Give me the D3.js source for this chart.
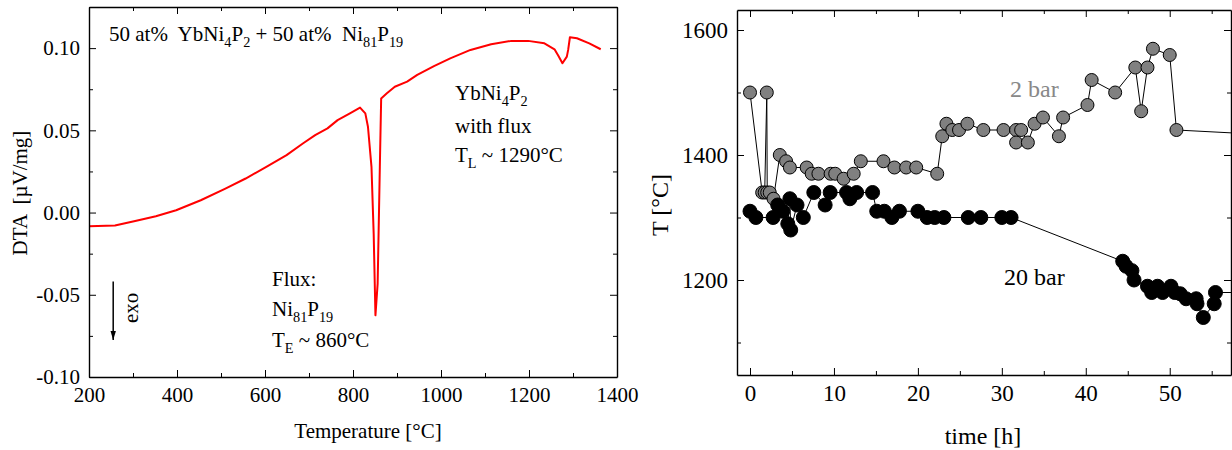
<!DOCTYPE html>
<html>
<head>
<meta charset="utf-8">
<script src="https://cdn.jsdelivr.net/npm/d3@7"></script>
<style>
  body { margin: 0; background: #fff; }
  svg { display: block; font-family: "Liberation Serif", "Times New Roman", serif; }
</style>
</head>
<body>
<svg id="chart" width="1232" height="450"></svg>
<script>
// DTA curve (left panel)
const dtaTemperature = [200, 259, 305, 352, 398, 454, 510, 556, 603, 649, 686, 714, 742, 765, 793, 816,
  828, 834, 842, 847, 851, 856, 861, 864, 877, 895, 923, 946, 984, 1021, 1067, 1114, 1160, 1198,
  1235, 1258, 1267, 1276, 1286, 1289, 1293, 1309, 1337, 1363];
const dtaSignal = [-0.0083, -0.0079, -0.0051, -0.0022, 0.0014, 0.0075, 0.0146, 0.0207, 0.0278, 0.0349,
  0.042, 0.0471, 0.0512, 0.0562, 0.0603, 0.0638, 0.0603, 0.0522, 0.0278, -0.0128, -0.0625, -0.0432,
  0.0278, 0.0694, 0.0725, 0.0765, 0.0796, 0.0837, 0.0891, 0.0938, 0.0989, 0.1024, 0.1044, 0.1044,
  0.1029, 0.0993, 0.0952, 0.0908, 0.0948, 0.0989, 0.1066, 0.106, 0.1029, 0.0993];

// growth runs (right panel)
const time2bar = [0, 1.45, 1.75, 2.0, 2.05, 2.35, 2.8, 3.55, 4.3, 4.75, 6.75, 7.35, 8.15, 9.6, 10.15,
  11.15, 12.35, 13.2, 15.9, 17.2, 18.6, 19.8, 22.3, 22.9, 23.4, 24.1, 24.9, 25.9, 27.8, 30.2, 31.7,
  31.7, 32.3, 33.1, 33.9, 34.9, 36.8, 37.3, 40.2, 40.7, 43.5, 45.9, 46.6, 47.35, 48.0, 50.0, 50.8, 65];
const temp2bar = [1500, 1340, 1340, 1500, 1340, 1340, 1330, 1400, 1390, 1380, 1380, 1370, 1370, 1370,
  1370, 1362, 1370, 1390, 1390, 1380, 1380, 1380, 1370, 1430, 1450, 1440, 1440, 1450, 1440, 1440,
  1440, 1420, 1440, 1420, 1450, 1460, 1430, 1460, 1480, 1520, 1500, 1540, 1470, 1540, 1570, 1560,
  1440, 1430];

const time20bar = [0, 0.7, 2.75, 3.3, 3.9, 4.5, 4.75, 4.85, 5.6, 6.35, 7.6, 8.95, 9.55, 11.5, 11.9,
  12.7, 14.6, 15.1, 16.0, 16.9, 17.8, 20.0, 21.1, 22.0, 23.1, 26.0, 27.5, 30.0, 31.1, 44.4, 44.8,
  45.5, 45.75, 47.35, 47.85, 48.55, 49.15, 50.15, 50.6, 51.25, 51.95, 53.15, 53.25, 54.0, 55.3,
  55.45, 65];
const temp20bar = [1310, 1300, 1300, 1320, 1310, 1290, 1330, 1280, 1320, 1300, 1340, 1320, 1340, 1340,
  1330, 1340, 1340, 1310, 1310, 1300, 1310, 1310, 1300, 1300, 1300, 1300, 1300, 1300, 1300, 1230,
  1222, 1215, 1200, 1190, 1180, 1190, 1180, 1190, 1180, 1178, 1170, 1170, 1162, 1140, 1162, 1180,
  1180];

// tick values
const dtaXTicks = [200, 400, 600, 800, 1000, 1200, 1400];
const dtaXMinor = [300, 500, 700, 900, 1100, 1300];
const dtaYTicks = [-0.10, -0.05, 0.00, 0.05, 0.10];
const dtaYMinor = [-0.075, -0.025, 0.025, 0.075];
const timeTicks = [0, 10, 20, 30, 40, 50];
const timeMinor = [5, 15, 25, 35, 45, 55];
const tempTicks = [1200, 1400, 1600];
const tempMinor = [1100, 1300, 1500];

const svg = d3.select("#chart");

// draws the box with inward major/minor ticks on all four sides
function frame(g, x, y, { xMajor, xMinor, yMajor, yMinor, xFormat, yFormat, fontSize }) {
  const [x0, x1] = x.range();
  const [y0, y1] = y.range();
  const sides = [
    [d3.axisBottom, `translate(0,${y0})`, x, xMajor, xMinor, xFormat],
    [d3.axisTop, `translate(0,${y1})`, x, xMajor, xMinor, null],
    [d3.axisLeft, `translate(${x0},0)`, y, yMajor, yMinor, yFormat],
    [d3.axisRight, `translate(${x1},0)`, y, yMajor, yMinor, null],
  ];
  sides.forEach(([axis, transform, scale, major, minor, fmt]) => {
    g.append("g")
      .attr("transform", transform)
      .call(axis(scale).tickValues(minor).tickSize(-4).tickSizeOuter(0).tickFormat(""))
      .call((a) => a.select(".domain").remove());
    const a = g.append("g")
      .attr("transform", transform)
      .call(axis(scale).tickValues(major).tickSize(-7).tickSizeOuter(0)
        .tickPadding(axis === d3.axisLeft ? 9 : 10)
        .tickFormat(fmt || ""))
      .attr("font-family", null)
      .attr("font-size", fontSize);
    a.select(".domain").attr("stroke-width", 1.4);
    a.selectAll("text").attr("fill", "#000");
  });
}

// text with subscripts: parts are strings or [subscript]
function richText(g, x, y, parts, size, color = "#000") {
  const t = g.append("text").attr("x", x).attr("y", y)
    .attr("font-size", size).attr("fill", color).style("white-space", "pre");
  let shifted = false;
  parts.forEach((p) => {
    const sub = Array.isArray(p);
    const span = t.append("tspan").text(sub ? p[0] : p);
    if (sub && !shifted) { span.attr("dy", 6).attr("font-size", size * 0.68); shifted = true; }
    else if (sub) span.attr("font-size", size * 0.68);
    else if (shifted) { span.attr("dy", -6); shifted = false; }
  });
  return t;
}

// ---------- left panel: DTA ----------
const left = svg.append("g");
const xT = d3.scaleLinear().domain([200, 1400]).range([89, 617]);
const yD = d3.scaleLinear().domain([-0.10, 0.125]).range([377, 7]);

left.append("path")
  .datum(d3.zip(dtaTemperature, dtaSignal))
  .attr("fill", "none")
  .attr("stroke", "#ff0000")
  .attr("stroke-width", 2)
  .attr("stroke-linejoin", "round")
  .attr("d", d3.line().x((d) => xT(d[0])).y((d) => yD(d[1])));

frame(left, xT, yD, {
  xMajor: dtaXTicks, xMinor: dtaXMinor, yMajor: dtaYTicks, yMinor: dtaYMinor,
  xFormat: (d) => d, yFormat: (d) => d.toFixed(2), fontSize: 21,
});

left.append("text")
  .attr("x", 368).attr("y", 438)
  .attr("text-anchor", "middle").attr("font-size", 21)
  .text("Temperature [°C]");
left.append("text")
  .attr("transform", "translate(27,193) rotate(-90)")
  .attr("text-anchor", "middle").attr("font-size", 21)
  .style("white-space", "pre")
  .text("DTA  [µV/mg]");

richText(left, 109, 41, ["50 at%  YbNi", ["4"], "P", ["2"], " + 50 at%  Ni", ["81"], "P", ["19"]], 21);
richText(left, 455, 100, ["YbNi", ["4"], "P", ["2"]], 21);
richText(left, 455, 133, ["with flux"], 21);
richText(left, 455, 162, ["T", ["L"], " ~ 1290°C"], 21);
richText(left, 272, 286, ["Flux:"], 21);
richText(left, 272, 316, ["Ni", ["81"], "P", ["19"]], 21);
richText(left, 272, 347, ["T", ["E"], " ~ 860°C"], 21);

// exo arrow
svg.append("defs").append("marker")
  .attr("id", "arrow").attr("viewBox", "0 0 10 10")
  .attr("refX", 10).attr("refY", 5)
  .attr("markerWidth", 6).attr("markerHeight", 6)
  .attr("markerUnits", "strokeWidth")
  .attr("orient", "auto")
  .append("path").attr("d", "M0,2 L10,5 L0,8 Z").attr("fill", "#000");
left.append("line")
  .attr("x1", xT(255)).attr("x2", xT(255))
  .attr("y1", yD(-0.042)).attr("y2", yD(-0.0775))
  .attr("stroke", "#000").attr("stroke-width", 1.5)
  .attr("marker-end", "url(#arrow)");
left.append("text")
  .attr("transform", `translate(138,${yD(-0.058)}) rotate(-90)`)
  .attr("text-anchor", "middle").attr("font-size", 21)
  .text("exo");

// ---------- right panel: temperature vs time ----------
const right = svg.append("g");
const xH = d3.scaleLinear().domain([-1.55, 57.3]).range([737, 1231]);
const yC = d3.scaleLinear().domain([1048, 1632]).range([375, 10]);

svg.select("defs").append("clipPath").attr("id", "plotClip")
  .append("rect").attr("x", 737).attr("y", 10).attr("width", 494).attr("height", 365);

const plot = right.append("g").attr("clip-path", "url(#plotClip)");
const line = d3.line().x((d) => xH(d[0])).y((d) => yC(d[1]));

const runs = [
  { t: time2bar, T: temp2bar, fill: "#808080", r: 6.5 },
  { t: time20bar, T: temp20bar, fill: "#000", r: 7 },
];
runs.forEach((run) => {
  const pts = d3.zip(run.t, run.T);
  plot.append("path").datum(pts)
    .attr("fill", "none").attr("stroke", "#000").attr("stroke-width", 1)
    .attr("d", line);
  plot.append("g").selectAll("circle").data(pts).join("circle")
    .attr("cx", (d) => xH(d[0])).attr("cy", (d) => yC(d[1]))
    .attr("r", run.r)
    .attr("fill", run.fill).attr("stroke", "#000").attr("stroke-width", 1);
});

frame(right, xH, yC, {
  xMajor: timeTicks, xMinor: timeMinor, yMajor: tempTicks, yMinor: tempMinor,
  xFormat: (d) => d, yFormat: (d) => d, fontSize: 23,
});

right.append("text")
  .attr("x", 983).attr("y", 444)
  .attr("text-anchor", "middle").attr("font-size", 24)
  .text("time [h]");
right.append("text")
  .attr("transform", "translate(668,205) rotate(-90)")
  .attr("text-anchor", "middle").attr("font-size", 24)
  .text("T [°C]");
right.append("text")
  .attr("x", 1010).attr("y", 97).attr("font-size", 24).attr("fill", "#888")
  .text("2 bar");
right.append("text")
  .attr("x", 1004).attr("y", 285).attr("font-size", 24).attr("fill", "#000")
  .text("20 bar");
</script>
</body>
</html>
